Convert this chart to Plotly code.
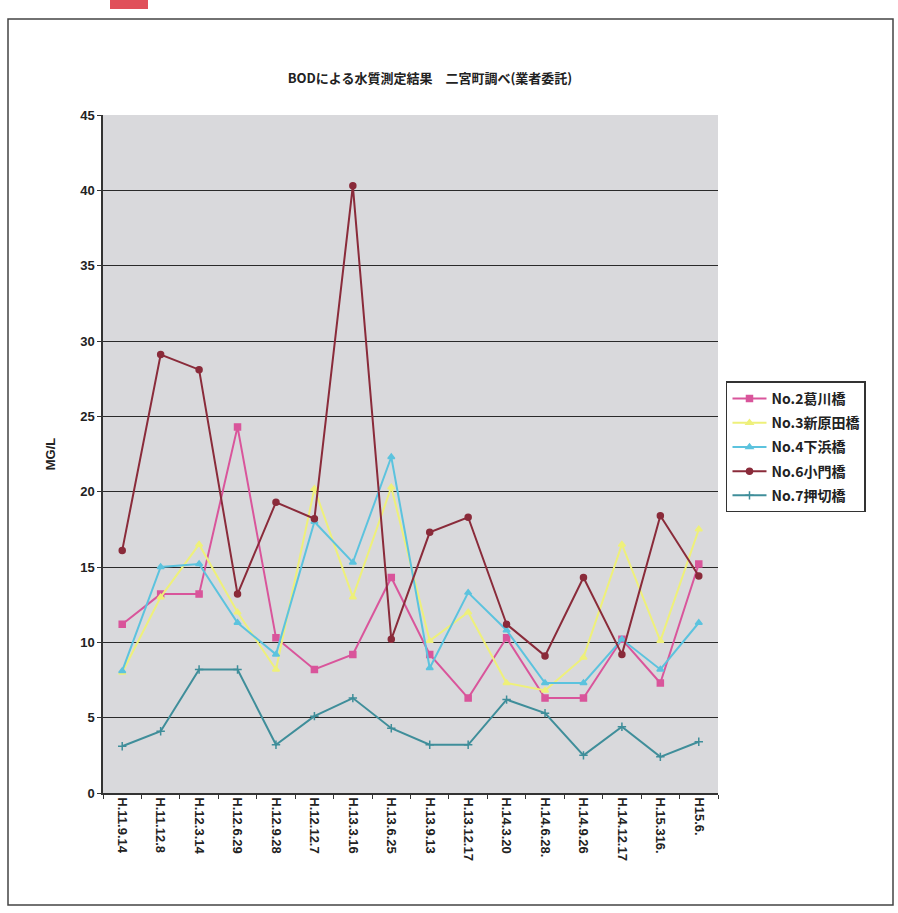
import plotly.graph_objects as go

# Sampling dates (Heisei era)
dates = ["H.11.9.14", "H.11.12.8", "H.12.3.14", "H.12.6.29", "H.12.9.28",
         "H.12.12.7", "H.13.3.16", "H.13.6.25", "H.13.9.13", "H.13.12.17",
         "H.14.3.20", "H.14.6.28.", "H.14.9.26", "H.14.12.17", "H.15.316.",
         "H15.6."]

# BOD (mg/L) per monitoring point
no2_kuzukawa = [11.2, 13.2, 13.2, 24.3, 10.3, 8.2, 9.2, 14.3, 9.2, 6.3, 10.3, 6.3, 6.3, 10.2, 7.3, 15.2]
no3_shinharada = [8.0, 13.0, 16.5, 12.0, 8.2, 20.2, 13.0, 20.3, 10.1, 12.0, 7.3, 6.8, 9.0, 16.5, 10.1, 17.5]
no4_shimohama = [8.1, 15.0, 15.2, 11.3, 9.2, 18.0, 15.3, 22.3, 8.3, 13.3, 10.8, 7.3, 7.3, 10.2, 8.2, 11.3]
no6_komon = [16.1, 29.1, 28.1, 13.2, 19.3, 18.2, 40.3, 10.2, 17.3, 18.3, 11.2, 9.1, 14.3, 9.2, 18.4, 14.4]
no7_oshikiri = [3.1, 4.1, 8.2, 8.2, 3.2, 5.1, 6.3, 4.3, 3.2, 3.2, 6.2, 5.3, 2.5, 4.4, 2.4, 3.4]

series = [
    ("No.2葛川橋", no2_kuzukawa, "#D9559B", "square", 6),
    ("No.3新原田橋", no3_shinharada, "#EEF07A", "triangle-up", 6),
    ("No.4下浜橋", no4_shimohama, "#5CC3DE", "triangle-up", 6),
    ("No.6小門橋", no6_komon, "#8A2B3A", "circle", 6),
    ("No.7押切橋", no7_oshikiri, "#3F8E9A", "cross-thin", 6),
]

fig = go.Figure()
for name, vals, color, sym, size in series:
    fig.add_trace(go.Scatter(
        x=dates, y=vals, name=name, legendgroup=name, mode="lines+markers",
        line=dict(color=color, width=2),
        marker=dict(symbol=sym, size=size, color=color,
                    line=dict(color=color, width=1.5)),
    ))

font_lat = "Liberation Sans, Arial, sans-serif"
font_jp = "Noto Sans CJK JP, sans-serif"

fig.update_layout(
    width=898, height=913,
    margin=dict(l=103, r=180, t=115, b=120),
    paper_bgcolor="white",
    plot_bgcolor="#D9D9DC",
    title=dict(
        text="BODによる水質測定結果　二宮町調べ(業者委託)",
        x=430 / 898, xanchor="center", y=1 - 78 / 913, yanchor="middle",
        font=dict(family=font_jp, size=13, color="#222222", weight="bold"),
    ),
    showlegend=True,
    legend=dict(
        x=1.013, y=0.607, xanchor="left", yanchor="top",
        bgcolor="white", bordercolor="#333333", borderwidth=1.5,
        font=dict(family=font_jp, size=14, color="#222222", weight="bold"),
        tracegroupgap=3, itemwidth=34,
    ),
    xaxis=dict(
        type="category",
        tickangle=90,
        tickfont=dict(family=font_lat, size=13, color="#222222", weight="bold"),
        showgrid=False,
        showline=True, linecolor="#333333", linewidth=1.5,
        ticks="outside", ticklen=4, tickcolor="#333333", tickson="boundaries",
        range=[-0.5, len(dates) - 0.5],
    ),
    yaxis=dict(
        range=[0, 45], dtick=5,
        tickfont=dict(family=font_lat, size=13, color="#222222", weight="bold"),
        showgrid=True, gridcolor="#2A2A2A", gridwidth=1.2,
        showline=True, linecolor="#333333", linewidth=1.5,
        ticks="outside", ticklen=4, tickcolor="#333333",
        zeroline=False,
        title=dict(text="MG/L", standoff=22,
                   font=dict(family=font_lat, size=13, color="#222222", weight="bold")),
    ),
    shapes=[
        # outer frame of the chart area
        dict(type="rect", xref="paper", yref="paper",
             x0=-95 / 615, x1=(893 - 103) / 615,
             y0=(793 - 905) / 678, y1=(793 - 19) / 678,
             line=dict(color="#444444", width=1.5), fillcolor="rgba(0,0,0,0)",
             layer="below"),
        # red tab at the top edge
        dict(type="rect", xref="paper", yref="paper",
             x0=(110 - 103) / 615, x1=(148 - 103) / 615,
             y0=(793 - 9) / 678, y1=(793 - 0) / 678,
             line=dict(width=0), fillcolor="#E0505A"),
    ],
)

fig.write_html("out.html")
